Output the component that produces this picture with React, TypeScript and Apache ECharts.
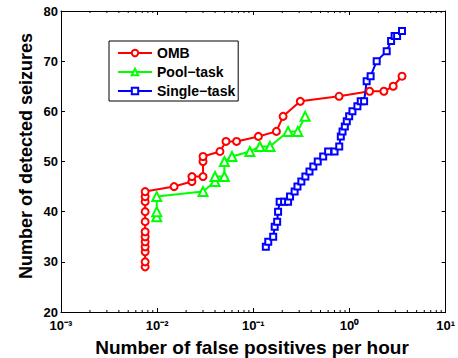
import React, { useEffect, useRef } from "react";
import * as echarts from "echarts";

const seriesNames = ["OMB", "Pool\u2212task", "Single\u2212task"];

const ombX = [0.0075, 0.0075, 0.0075, 0.0075, 0.0075, 0.0075, 0.0075, 0.0075, 0.0075, 0.0075, 0.0075, 0.0075, 0.015, 0.023, 0.023, 0.030, 0.030, 0.030, 0.045, 0.052, 0.067, 0.113, 0.174, 0.204, 0.308, 0.78, 1.62, 2.28, 2.85, 3.52];
const ombY = [29, 30, 32, 33, 34, 35, 36, 38, 40, 42, 43, 44, 45, 46, 47, 47, 50, 51, 52, 54, 54, 55, 56, 59, 62, 63, 64, 64, 65, 67];

const poolX = [0.0099, 0.0099, 0.0099, 0.030, 0.040, 0.040, 0.050, 0.050, 0.060, 0.092, 0.117, 0.149, 0.23, 0.29, 0.346];
const poolY = [39, 40, 43, 44, 46, 47, 47, 50, 51, 52, 53, 53, 56, 56, 59];

const singleX = [0.135, 0.143, 0.161, 0.167, 0.177, 0.181, 0.188, 0.209, 0.230, 0.241, 0.269, 0.288, 0.316, 0.348, 0.384, 0.421, 0.468, 0.533, 0.600, 0.700, 0.783, 0.813, 0.847, 0.895, 0.938, 0.993, 1.074, 1.21, 1.31, 1.42, 1.51, 1.66, 1.92, 2.44, 2.71, 2.95, 3.13, 3.52];
const singleY = [33, 34, 35, 37, 38, 40, 42, 42, 42, 43, 44, 45, 46, 47, 48, 49, 50, 51, 52, 52, 53, 55, 56, 57, 58, 59, 60, 61, 62, 62, 66, 67, 70, 72, 74, 75, 75, 76];

const xMin = 0.001;
const xMax = 10;
const yMin = 20;
const yMax = 80;
const yInterval = 10;

const minorTickValues: number[] = [];
for (let e = -3; e < 1; e++) {
  for (let m = 2; m <= 9; m++) minorTickValues.push(m * Math.pow(10, e));
}

const FONT = "Liberation Sans, Arial, Helvetica, sans-serif";
const SUP: Record<string, string> = { "-": "\u207B", "0": "\u2070", "1": "\u00B9", "2": "\u00B2", "3": "\u00B3" };

const zip = (xs: number[], ys: number[]) => xs.map((x, i) => [x, ys[i]]);

export default function App() {
  const ref = useRef<HTMLDivElement>(null);
  useEffect(() => {
    if (!ref.current) return;
    const chart = echarts.init(ref.current, null, { renderer: "svg" });
    const grid = { left: 61, right: 9, top: 11, bottom: 46 };
    const xLabelFmt = (v: number) => {
      const e = String(Math.round(Math.log10(v)));
      return "10" + e.split("").map((c) => SUP[c] || c).join("");
    };
    const option: any = {
      animation: false,
      backgroundColor: "#fff",
      grid,
      legend: {
        data: seriesNames,
        orient: "vertical",
        left: 109,
        top: 41,
        backgroundColor: "#fff",
        borderColor: "#000",
        borderWidth: 1,
        borderRadius: 0,
        padding: [5, 3, 3, 8],
        itemGap: 5,
        itemWidth: 34,
        itemHeight: 8,
        textStyle: { fontFamily: FONT, fontWeight: "bold", fontSize: 14, color: "#000" },
      },
      xAxis: [
        {
          type: "log",
          logBase: 10,
          min: xMin,
          max: xMax,
          position: "bottom",
          axisLine: { show: true, lineStyle: { color: "#000", width: 1 } },
          axisTick: { show: true, inside: true, length: 4, lineStyle: { color: "#000" } },
          splitLine: { show: false },
          axisLabel: {
            show: true,
            margin: 7,
            color: "#000",
            formatter: xLabelFmt,
            fontFamily: FONT,
            fontWeight: "bold",
            fontSize: 13,
          },
        },
        {
          type: "log",
          logBase: 10,
          min: xMin,
          max: xMax,
          position: "top",
          axisLine: { show: true, lineStyle: { color: "#000", width: 1 } },
          axisTick: { show: true, inside: true, length: 4, lineStyle: { color: "#000" } },
          splitLine: { show: false },
          axisLabel: { show: false },
        },
      ],
      yAxis: [
        {
          type: "value",
          min: yMin,
          max: yMax,
          interval: yInterval,
          position: "left",
          axisLine: { show: true, lineStyle: { color: "#000", width: 1 } },
          axisTick: { show: true, inside: true, length: 4, lineStyle: { color: "#000" } },
          splitLine: { show: false },
          axisLabel: { margin: 3, color: "#000", fontFamily: FONT, fontWeight: "bold", fontSize: 13 },
        },
        {
          type: "value",
          min: yMin,
          max: yMax,
          interval: yInterval,
          position: "right",
          axisLine: { show: true, lineStyle: { color: "#000", width: 1 } },
          axisTick: { show: true, inside: true, length: 4, lineStyle: { color: "#000" } },
          splitLine: { show: false },
          axisLabel: { show: false },
        },
      ],
      graphic: [
        {
          type: "text",
          x: 252,
          y: 347,
          style: {
            text: "Number of false positives per hour",
            fontFamily: FONT,
            fontWeight: "bold",
            fontSize: 19,
            fill: "#000",
            align: "center",
            verticalAlign: "middle",
          },
        },
        {
          type: "text",
          x: 26,
          y: 156,
          rotation: Math.PI / 2,
          style: {
            text: "Number of detected seizures",
            fontFamily: FONT,
            fontWeight: "bold",
            fontSize: 18,
            fill: "#000",
            align: "center",
            verticalAlign: "middle",
          },
        },
      ],
      series: [
        {
          type: "custom",
          name: "minorTicks",
          silent: true,
          xAxisIndex: 0,
          yAxisIndex: 0,
          clip: false,
          data: minorTickValues.map((v) => [v, yMin]),
          renderItem: (params: any, api: any) => {
            const v = api.value(0);
            const b = api.coord([v, yMin]);
            const t = api.coord([v, yMax]);
            return {
              type: "group",
              children: [
                { type: "line", shape: { x1: b[0], y1: b[1], x2: b[0], y2: b[1] - 2 }, style: { stroke: "#000", lineWidth: 1 } },
                { type: "line", shape: { x1: t[0], y1: t[1], x2: t[0], y2: t[1] + 2 }, style: { stroke: "#000", lineWidth: 1 } },
              ],
            };
          },
        },
        {
          name: seriesNames[0],
          type: "line",
          data: zip(ombX, ombY),
          color: "#ff0000",
          symbol: "emptyCircle",
          symbolSize: 7,
          itemStyle: { color: "#ff0000", borderWidth: 2 },
          lineStyle: { color: "#ff0000", width: 2 },
        },
        {
          name: seriesNames[1],
          type: "line",
          data: zip(poolX, poolY),
          color: "#00ff00",
          symbol: "emptyTriangle",
          symbolSize: 9,
          itemStyle: { color: "#00ff00", borderWidth: 2 },
          lineStyle: { color: "#00ff00", width: 2 },
        },
        {
          name: seriesNames[2],
          type: "line",
          data: zip(singleX, singleY),
          color: "#0000ff",
          symbol: "emptyRect",
          symbolSize: 6,
          itemStyle: { color: "#0000ff", borderWidth: 2 },
          lineStyle: { color: "#0000ff", width: 2 },
        },
      ],
    };
    chart.setOption(option);
    return () => chart.dispose();
  }, []);
  return <div ref={ref} style={{ width: 458, height: 358, position: "absolute", left: 0, top: 0 }} />;
}
